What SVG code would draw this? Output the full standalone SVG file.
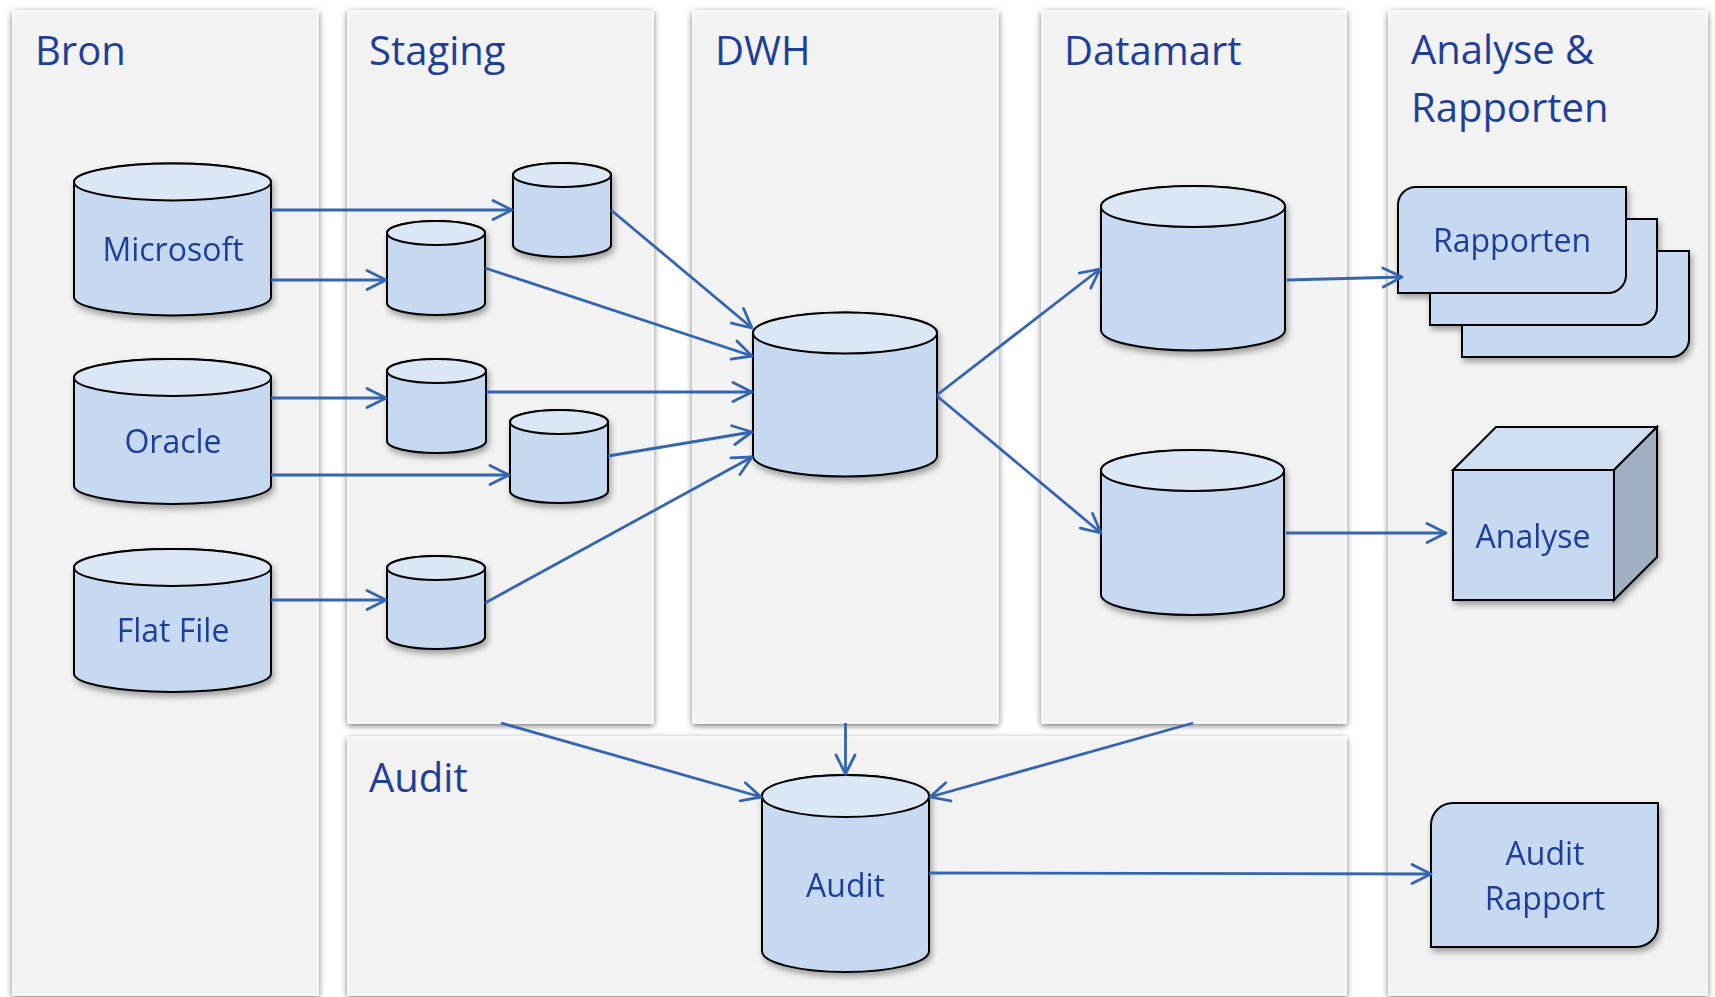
<svg xmlns="http://www.w3.org/2000/svg" width="1715" height="997" viewBox="0 0 1715 997">
<defs>
<filter id="pshadow" x="-10%" y="-10%" width="120%" height="120%">
<feDropShadow dx="0" dy="2" stdDeviation="3" flood-color="#000" flood-opacity="0.55"/>
</filter>
<filter id="nshadow" x="-20%" y="-20%" width="140%" height="150%">
<feDropShadow dx="2" dy="4" stdDeviation="3" flood-color="#000" flood-opacity="0.35"/>
</filter>
<marker id="arr" markerUnits="userSpaceOnUse" markerWidth="30" markerHeight="30" viewBox="-25 -15 30 30" refX="0" refY="0" orient="auto">
<path d="M-19,-9.5 L0,0 L-19,9.5" fill="none" stroke="#3465ae" stroke-width="2.8" stroke-linecap="round" stroke-linejoin="round"/>
</marker>
<style>
.panel{fill:#f2f2f2;stroke:#fbfbfb;stroke-width:1.5;filter:url(#pshadow)}
.title{font-family:"Open Sans","Noto Sans","Liberation Sans",sans-serif;font-size:40px;fill:#1f3f96}
.lbl{font-family:"Open Sans","Noto Sans","Liberation Sans",sans-serif;font-size:32px;fill:#1f3f96;text-anchor:middle}
.body{fill:#c6d9f0;stroke:#000;stroke-width:2}
.top{fill:#dce7f5;stroke:#000;stroke-width:2}
.side{fill:#a1afc2;stroke:#000;stroke-width:2}
.node{filter:url(#nshadow)}
.conn path{fill:none;stroke:#3465ae;stroke-width:2.8;marker-end:url(#arr)}
</style>
</defs>
<rect width="1715" height="997" fill="#ffffff"/>

<g id="panels">
<g id="panel-bron"><rect class="panel" x="13" y="11" width="305" height="984"/><text class="title" x="35" y="65">Bron</text></g>
<g id="panel-staging"><rect class="panel" x="348" y="11" width="305" height="712"/><text class="title" x="369" y="65">Staging</text></g>
<g id="panel-dwh"><rect class="panel" x="693" y="11" width="305" height="712"/><text class="title" x="715" y="65">DWH</text></g>
<g id="panel-datamart"><rect class="panel" x="1042" y="11" width="304" height="712"/><text class="title" x="1064" y="65">Datamart</text></g>
<g id="panel-analyse"><rect class="panel" x="1389" y="11" width="318" height="984"/><text class="title" x="1411" y="64">Analyse &amp;</text><text class="title" x="1411" y="122">Rapporten</text></g>
<g id="panel-audit"><rect class="panel" x="348" y="737" width="998" height="258"/><text class="title" x="369" y="792">Audit</text></g>
</g>

<g id="src-microsoft" class="node">
<path class="body" d="M74,182 V297 A98.5,18.5 0 0 0 271,297 V182 A98.5,18.5 0 0 0 74,182 Z"/>
<ellipse class="top" cx="172.5" cy="182" rx="98.5" ry="18.5"/>
<text class="lbl" x="173" y="261">Microsoft</text>
</g>
<g id="src-oracle" class="node">
<path class="body" d="M74,377.5 V485.5 A98.5,18.5 0 0 0 271,485.5 V377.5 A98.5,18.5 0 0 0 74,377.5 Z"/>
<ellipse class="top" cx="172.5" cy="377.5" rx="98.5" ry="18.5"/>
<text class="lbl" x="173" y="453">Oracle</text>
</g>
<g id="src-flatfile" class="node">
<path class="body" d="M74,567.5 V673.5 A98.5,18.5 0 0 0 271,673.5 V567.5 A98.5,18.5 0 0 0 74,567.5 Z"/>
<ellipse class="top" cx="172.5" cy="567.5" rx="98.5" ry="18.5"/>
<text class="lbl" x="173" y="642">Flat File</text>
</g>

<g id="stg-1" class="node">
<path class="body" d="M513,175 V245 A49,12 0 0 0 611,245 V175 A49,12 0 0 0 513,175 Z"/>
<ellipse class="top" cx="562" cy="175" rx="49" ry="12"/>
</g>
<g id="stg-2" class="node">
<path class="body" d="M387,233 V303 A49,12 0 0 0 485,303 V233 A49,12 0 0 0 387,233 Z"/>
<ellipse class="top" cx="436" cy="233" rx="49" ry="12"/>
</g>
<g id="stg-3" class="node">
<path class="body" d="M387,371 V441 A49.5,12 0 0 0 486,441 V371 A49.5,12 0 0 0 387,371 Z"/>
<ellipse class="top" cx="436.5" cy="371" rx="49.5" ry="12"/>
</g>
<g id="stg-4" class="node">
<path class="body" d="M510,422 V491 A49,12 0 0 0 608,491 V422 A49,12 0 0 0 510,422 Z"/>
<ellipse class="top" cx="559" cy="422" rx="49" ry="12"/>
</g>
<g id="stg-5" class="node">
<path class="body" d="M387,568 V637 A49,12 0 0 0 485,637 V568 A49,12 0 0 0 387,568 Z"/>
<ellipse class="top" cx="436" cy="568" rx="49" ry="12"/>
</g>

<g id="dwh" class="node">
<path class="body" d="M753,333 V456 A92,20.5 0 0 0 937,456 V333 A92,20.5 0 0 0 753,333 Z"/>
<ellipse class="top" cx="845" cy="333" rx="92" ry="20.5"/>
</g>

<g id="dm-1" class="node">
<path class="body" d="M1101,206.5 V330 A92,20.5 0 0 0 1285,330 V206.5 A92,20.5 0 0 0 1101,206.5 Z"/>
<ellipse class="top" cx="1193" cy="206.5" rx="92" ry="20.5"/>
</g>
<g id="dm-2" class="node">
<path class="body" d="M1101,470.5 V594.5 A91.5,20.5 0 0 0 1284,594.5 V470.5 A91.5,20.5 0 0 0 1101,470.5 Z"/>
<ellipse class="top" cx="1192.5" cy="470.5" rx="91.5" ry="20.5"/>
</g>

<g id="audit-db" class="node">
<path class="body" d="M762,796 V951 A83.5,21 0 0 0 929,951 V796 A83.5,21 0 0 0 762,796 Z"/>
<ellipse class="top" cx="845.5" cy="796" rx="83.5" ry="21"/>
<text class="lbl" x="845.5" y="897">Audit</text>
</g>

<g id="rapporten" class="node">
<path class="body" d="M1480,251 H1689 V339 A18,18 0 0 1 1671,357 H1462 V269 A18,18 0 0 1 1480,251 Z"/>
<path class="body" d="M1448,219 H1657 V307 A18,18 0 0 1 1639,325 H1430 V237 A18,18 0 0 1 1448,219 Z"/>
<path class="body" d="M1416,187 H1626 V275 A18,18 0 0 1 1608,293 H1398 V205 A18,18 0 0 1 1416,187 Z"/>
<text class="lbl" x="1512" y="252">Rapporten</text>
</g>

<g id="analyse" class="node">
<polygon class="top" points="1453,470 1496,427 1657,427 1614,470" style="fill:#d0def2"/>
<polygon class="side" points="1614,470 1657,427 1657,557 1614,600"/>
<rect class="body" x="1453" y="470" width="161" height="130"/>
<text class="lbl" x="1533" y="548">Analyse</text>
</g>

<g id="audit-rapport" class="node">
<path class="body" d="M1453,803 H1658 V925 A22,22 0 0 1 1636,947 H1431 V825 A22,22 0 0 1 1453,803 Z"/>
<text class="lbl" x="1545" y="865">Audit</text>
<text class="lbl" x="1545" y="910">Rapport</text>
</g>

<g id="connectors" class="conn">
<path d="M271,210 H512"/>
<path d="M271,280 H386"/>
<path d="M271,398 H386"/>
<path d="M271,475 H509"/>
<path d="M271,600 H386"/>
<path d="M611,210 L752,328"/>
<path d="M485,268 L752,356"/>
<path d="M486,392 H752"/>
<path d="M608,456 L752,432"/>
<path d="M485,603 L752,457"/>
<path d="M937,395 L1100,269"/>
<path d="M937,396 L1101,533"/>
<path d="M1287,280 L1402,277"/>
<path d="M1286,533 H1446"/>
<path d="M501,723 L761,797"/>
<path d="M845.5,723 V774"/>
<path d="M1193,723 L930,797"/>
<path d="M929,873 L1431,874"/>
</g>
</svg>
